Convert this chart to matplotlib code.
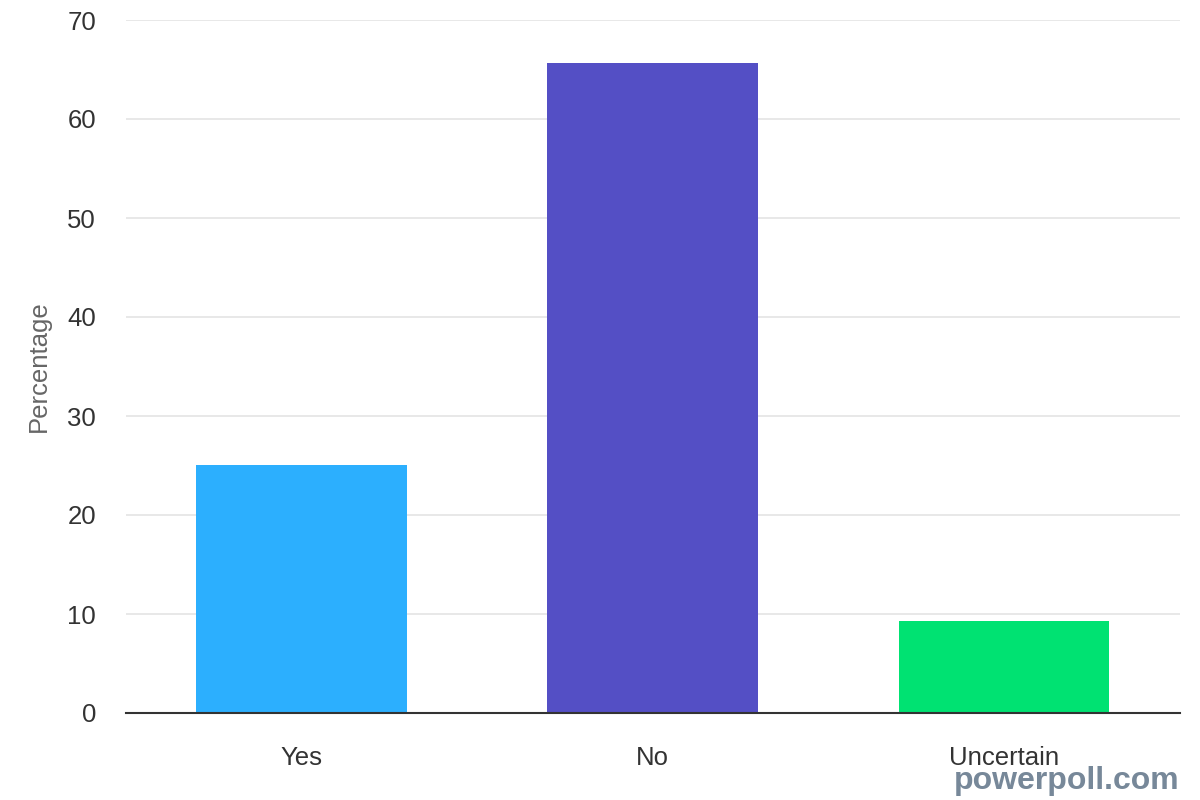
import matplotlib
matplotlib.use('Agg')
import matplotlib.pyplot as plt

plt.rcParams['font.family'] = ['Liberation Sans', 'DejaVu Sans']

categories = ['Yes', 'No', 'Uncertain']
values = [25.1, 65.7, 9.3]
colors = ['#2caffe', '#544fc5', '#00e272']

fig = plt.figure(figsize=(12, 8), dpi=100)
ax = fig.add_axes([0.105, 0.10875, 0.878, 0.86625])

ax.bar(range(len(categories)), values, width=0.6, color=colors, zorder=3)

ax.set_xlim(-0.5, 2.5)
ax.set_ylim(0, 70)
ax.set_yticks(range(0, 71, 10))
ax.set_xticks(range(len(categories)))
ax.set_xticklabels(categories)
ax.tick_params(axis='both', length=0, labelsize=18.5, colors='#333333')
ax.tick_params(axis='y', pad=21.5)
ax.tick_params(axis='x', pad=24)
ax.grid(axis='y', color='#e6e6e6', linewidth=1.3, zorder=0)
for s in ['top', 'right', 'left']:
    ax.spines[s].set_visible(False)
ax.spines['bottom'].set_color('#333333')
ax.spines['bottom'].set_linewidth(1.5)
ax.spines['bottom'].set_zorder(4)

ax.set_ylabel('Percentage', fontsize=18.5, color='#666666')
ax.yaxis.set_label_coords(-0.071, 0.5)

fig.text(0.983, 0.005, 'powerpoll.com', ha='right', va='bottom',
         fontsize=23, fontweight='bold', color='#778899')

fig.savefig('out.png', dpi=100)
